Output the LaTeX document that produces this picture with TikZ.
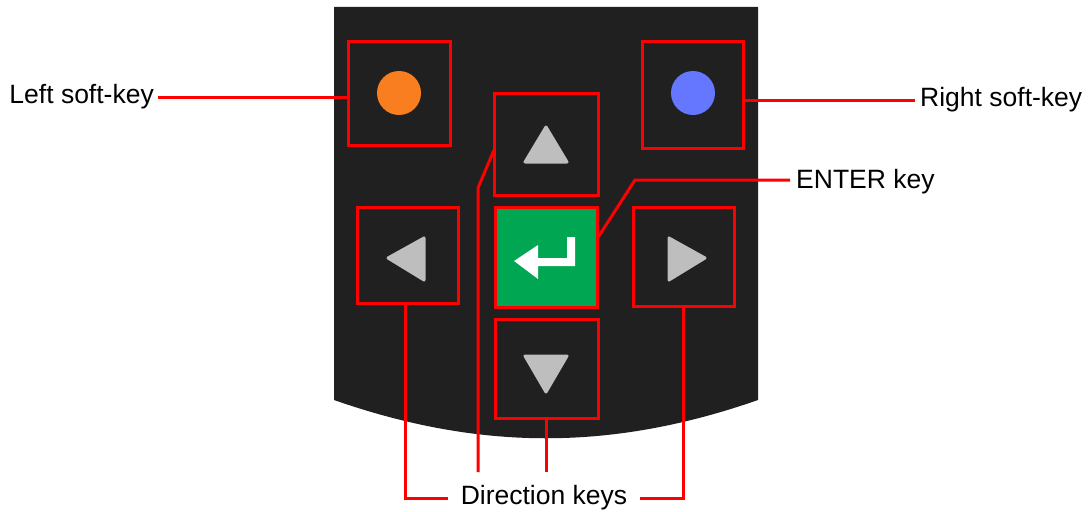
\documentclass[tikz,border=0pt]{standalone}
\usepackage{fontspec}
\setmainfont{Liberation Sans}
\definecolor{panel}{HTML}{202020}
\definecolor{keygrey}{HTML}{BEBEBE}
\definecolor{softorange}{HTML}{F97E1F}
\definecolor{softblue}{HTML}{6677FF}
\definecolor{entergreen}{HTML}{00A651}
\definecolor{leader}{HTML}{FF0000}
\begin{document}
\begin{tikzpicture}[x=1pt,y=-1pt,
  keybox/.style={draw=leader, line width=3pt, inner sep=0pt, outer sep=0pt, rectangle},
  lead/.style={draw=leader, line width=3pt},
  lbl/.style={font=\fontsize{26.5}{31}\selectfont, inner sep=2pt, text=black},
  glyph/.style={fill=keygrey, draw=keygrey, line width=3pt, line join=round}
]
\useasboundingbox (0,0) rectangle (1091,511);
% panel
\fill[panel] (334,7) -- (758,7) -- (758,400) .. controls (612,451) and (480,451) .. (334,400) -- cycle;
% keys
\node[keybox, minimum width=102pt, minimum height=103pt] (lsk) at (399,93.5) {};
\node[keybox, minimum width=101pt, minimum height=106pt] (rsk) at (692.5,95) {};
\node[keybox, minimum width=104pt, minimum height=102pt] (up) at (546,144) {};
\node[keybox, minimum width=101pt, minimum height=96pt] (lft) at (407.5,255) {};
\node[keybox, fill=entergreen, minimum width=102pt, minimum height=100pt] (ent) at (546,257) {};
\node[keybox, minimum width=101pt, minimum height=99pt] (rgt) at (683.5,256.5) {};
\node[keybox, minimum width=103pt, minimum height=99pt] (dn) at (546.5,368.5) {};
% glyphs
\fill[softorange] (399,93) circle (22);
\fill[softblue] (693,93) circle (22);
\path[glyph] (546,127) -- (567,162) -- (525,162) -- cycle;
\path[glyph] (546,392) -- (567,356) -- (525,356) -- cycle;
\path[glyph] (388,258) -- (424,238) -- (424,280) -- cycle;
\path[glyph] (705,258) -- (669,238) -- (669,280) -- cycle;
\fill[white] (514,261) -- (538,245) -- (538,258) -- (567,258) -- (567,237) -- (575,237) -- (575,266) -- (538,266) -- (538,279) -- cycle;
% labels
\node[lbl, anchor=east, inner xsep=4pt] (lskl) at (158,97) {Left soft-key};
\node[lbl, anchor=west, inner xsep=5pt] (rskl) at (915,100) {Right soft-key};
\node[lbl, anchor=west, inner xsep=6pt] (entl) at (790,182) {ENTER key};
\node[lbl, inner xsep=13pt] (dirl) at (544,498) {Direction keys};
% leaders
\draw[lead] (lskl.east) -- (lskl.east -| lsk.west);
\draw[lead] (rskl.west) -- (rskl.west -| rsk.east);
\coordinate (entbend) at (635,180);
\coordinate (entfoot) at (597,239);
\draw[lead] (entl.west |- entbend) -- (entbend) -- (entfoot);
\coordinate (upfoot) at (494,150);
\coordinate (upbend) at (478,188);
\coordinate (upend) at (478,472);
\draw[lead] (upfoot) -- (upbend) -- (upend);
\coordinate (dnend) at (546.5,472);
\draw[lead] (dn.south) -- (dnend);
\coordinate (lftfoot) at (405,303);
\coordinate (rgtfoot) at (683,306);
\draw[lead] (lftfoot) |- (dirl.west);
\draw[lead] (rgtfoot) |- (dirl.east);
\end{tikzpicture}
\end{document}
